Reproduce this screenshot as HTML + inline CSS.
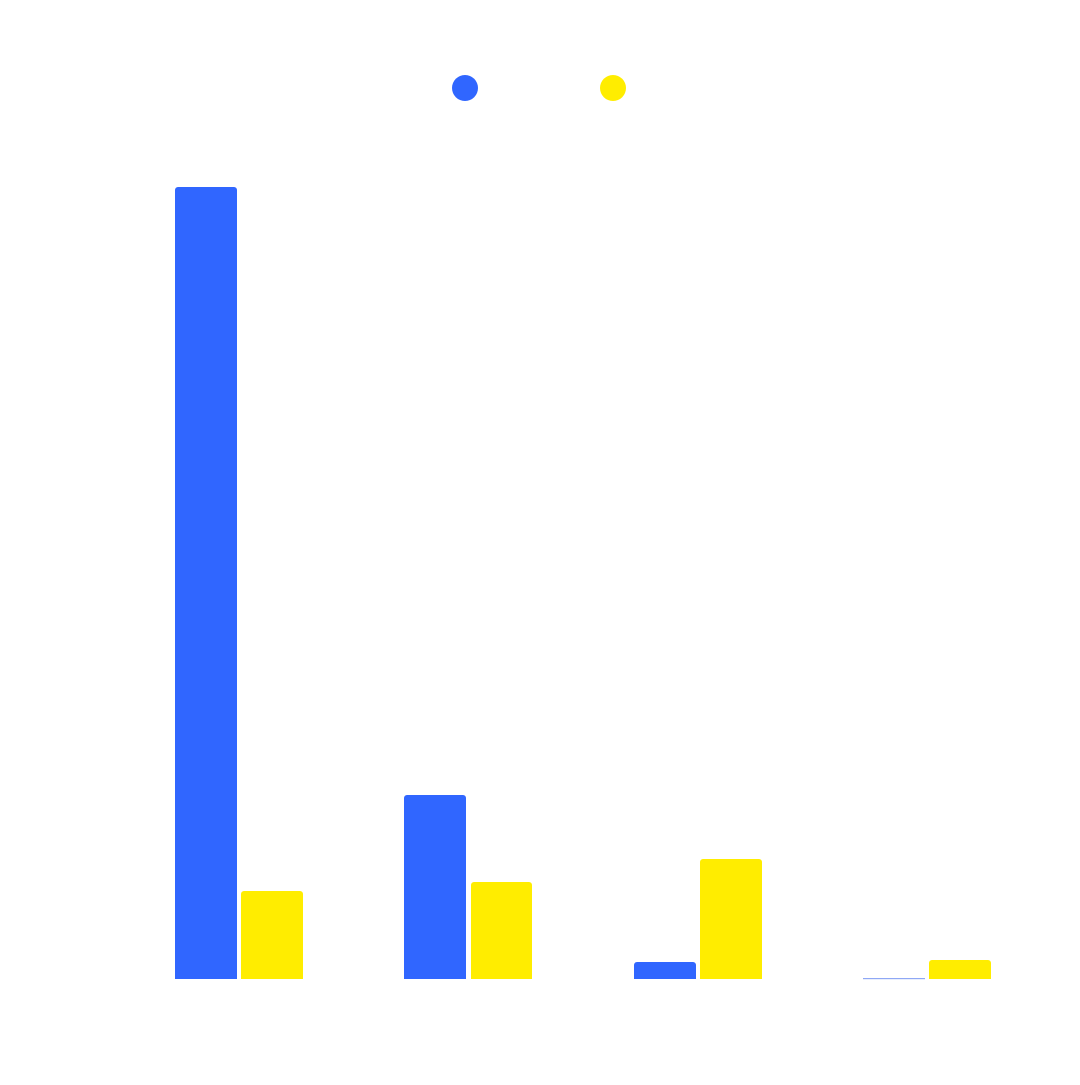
<!DOCTYPE html>
<html><head><style>html,body{margin:0;padding:0;background:#fff;}</style></head>
<body>
<svg width="1080" height="1080" xmlns="http://www.w3.org/2000/svg">
<rect width="1080" height="1080" fill="#fff"/>
<circle cx="465" cy="88" r="13" fill="#3066FF"/>
<circle cx="613" cy="88" r="13" fill="#FFED00"/>
<g fill="#3066FF">
<path d="M175,979 V190 a3,3 0 0 1 3,-3 H234 a3,3 0 0 1 3,3 V979 Z"/>
<path d="M404,979 V798 a3,3 0 0 1 3,-3 H463 a3,3 0 0 1 3,3 V979 Z"/>
<path d="M634,979 V965 a3,3 0 0 1 3,-3 H693 a3,3 0 0 1 3,3 V979 Z"/>
</g>
<rect x="863" y="978" width="62" height="1.2" fill="#8fa8f5"/>
<g fill="#FFED00">
<path d="M241,979 V894 a3,3 0 0 1 3,-3 H300 a3,3 0 0 1 3,3 V979 Z"/>
<path d="M471,979 V885 a3,3 0 0 1 3,-3 H529 a3,3 0 0 1 3,3 V979 Z"/>
<path d="M700,979 V862 a3,3 0 0 1 3,-3 H759 a3,3 0 0 1 3,3 V979 Z"/>
<path d="M929,979 V963 a3,3 0 0 1 3,-3 H988 a3,3 0 0 1 3,3 V979 Z"/>
</g>
</svg>
</body></html>
